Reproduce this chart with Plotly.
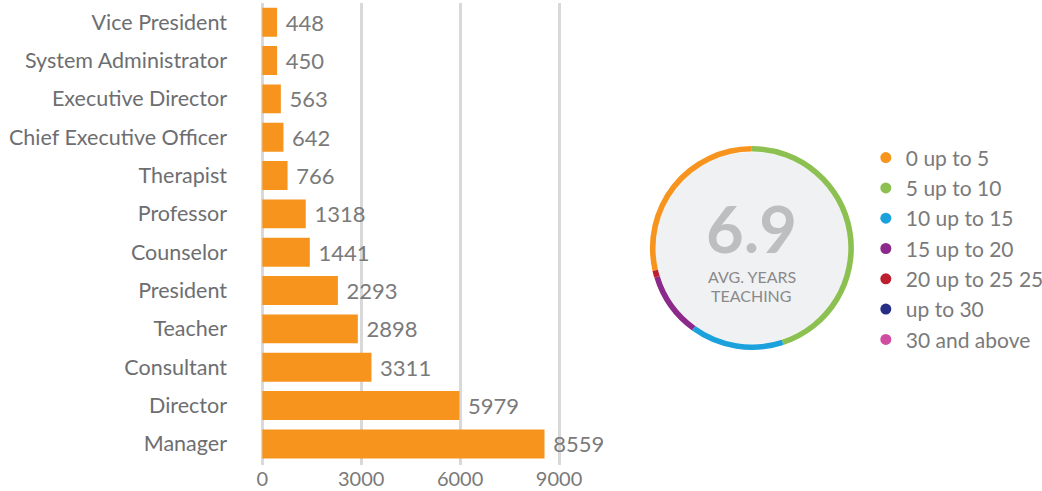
import plotly.graph_objects as go

# ---- data ----
roles = ["Vice President", "System Administrator", "Executive Director",
         "Chief Executive Officer", "Therapist", "Professor", "Counselor",
         "President", "Teacher", "Consultant", "Director", "Manager"]
counts = [448, 450, 563, 642, 766, 1318, 1441, 2293, 2898, 3311, 5979, 8559]
x_ticks = [0, 3000, 6000, 9000]

year_bins = ["0 up to 5", "5 up to 10", "10 up to 15", "15 up to 20",
             "20 up to 25 25", "up to 30", "30 and above"]
year_share = [28.6, 45.0, 15.0, 10.3, 1.1, 0, 0]
bin_colors = ["#f7941d", "#8cc152", "#1ba1dc", "#8b2a8a", "#be1e2d", "#262f86", "#d04e9f"]
avg_years = "6.9"
center_caption = ["AVG. YEARS", "TEACHING"]

FONT = "Lato"
GRAY = "#7a7a7a"

PIE_X = [0.498, 0.761]
PIE_Y = [0.2489, 0.6905]
PIE_CX = (PIE_X[0] + PIE_X[1]) / 2

fig = go.Figure()

fig.add_trace(go.Bar(
    y=roles, x=counts, orientation="h",
    marker=dict(color="#f7941e", line=dict(width=0)),
    text=[str(c) for c in counts], texttemplate=" %{text}",
    textposition="outside", cliponaxis=False,
    textfont=dict(family=FONT, size=22, color=GRAY),
    showlegend=False, hoverinfo="skip",
))

# donut
fig.add_trace(go.Pie(
    labels=year_bins, values=year_share, sort=False, direction="clockwise",
    rotation=257, hole=0.945,
    marker=dict(colors=bin_colors, line=dict(width=0)),
    textinfo="none", showlegend=False, hoverinfo="skip",
    domain=dict(x=PIE_X, y=PIE_Y),
))

# legend entries (circular markers)
for name, col in zip(year_bins, bin_colors):
    fig.add_trace(go.Scatter(
        x=[None], y=[None], mode="markers", name=name,
        marker=dict(color=col, size=11, symbol="circle"),
        showlegend=True,
    ))

fig.update_layout(
    width=1042, height=491,
    margin=dict(l=259, r=0, t=3, b=26, autoexpand=False),
    paper_bgcolor="white", plot_bgcolor="white",
    font=dict(family=FONT, color=GRAY),
    bargap=0.245,
    xaxis=dict(
        domain=[0, 0.3874], range=[-100, 9100],
        tickvals=x_ticks, ticktext=[str(v) for v in x_ticks],
        showgrid=True, gridcolor="#d9d9d9", gridwidth=3,
        zeroline=False, showline=False, ticks="", automargin=False,
        tickfont=dict(family=FONT, size=20, color=GRAY),
    ),
    yaxis=dict(
        categoryorder="array", categoryarray=roles[::-1],
        range=[-0.55, 11.5],
        showgrid=False, zeroline=False, showline=False, ticks="",
        ticklabelstandoff=31, automargin=False,
        tickfont=dict(family=FONT, size=21.5, color="#6d6e71"),
    ),
    legend=dict(
        x=0.775, y=0.709, xanchor="left", yanchor="top",
        font=dict(family=FONT, size=21, color=GRAY),
        bgcolor="rgba(0,0,0,0)", itemclick=False,
    ),
    shapes=[dict(
        type="circle", xref="paper", yref="paper", layer="below",
        x0=PIE_X[0] + 0.0075, x1=PIE_X[1] - 0.0075,
        y0=PIE_Y[0] + 0.0128, y1=PIE_Y[1] - 0.0128,
        fillcolor="#f0f1f3", line=dict(width=0),
    )],
    annotations=[
        dict(text="<b>" + avg_years + "</b>", xref="paper", yref="paper",
             x=PIE_CX, y=0.513, showarrow=False,
             font=dict(family=FONT, size=65, color="#bcbec0")),
        dict(text=center_caption[0], xref="paper", yref="paper",
             x=PIE_CX, y=0.407, showarrow=False,
             font=dict(family=FONT, size=16, color="#8a8a8a")),
        dict(text=center_caption[1], xref="paper", yref="paper",
             x=PIE_CX, y=0.366, showarrow=False,
             font=dict(family=FONT, size=16, color="#8a8a8a")),
    ],
)

fig.write_html("out.html",
               config={"displayModeBar": False},
               post_script="document.body.style.margin='0';document.body.style.overflow='hidden';")
